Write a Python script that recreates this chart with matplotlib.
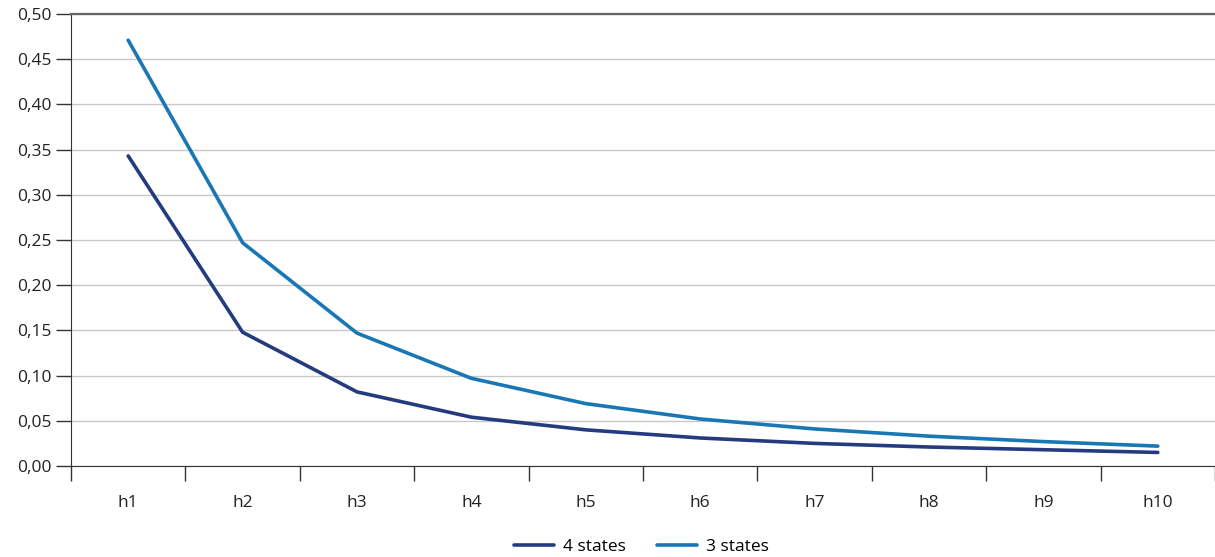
import numpy as np
import matplotlib.pyplot as plt
from matplotlib.ticker import FixedLocator, FuncFormatter

plt.rcParams['font.family'] = ['Open Sans', 'DejaVu Sans']

categories = ['h1', 'h2', 'h3', 'h4', 'h5', 'h6', 'h7', 'h8', 'h9', 'h10']
states4 = [0.343, 0.148, 0.082, 0.054, 0.040, 0.031, 0.025, 0.021, 0.018, 0.015]
states3 = [0.471, 0.247, 0.147, 0.097, 0.069, 0.052, 0.041, 0.033, 0.027, 0.022]
yticks = [0.0, 0.05, 0.10, 0.15, 0.20, 0.25, 0.30, 0.35, 0.40, 0.45, 0.50]

fig = plt.figure(figsize=(12.15, 5.57), dpi=100)
ax = fig.add_axes([71 / 1215, 91 / 557, 1 - 71 / 1215, (466 - 14) / 557])

x = np.arange(len(categories))
ax.plot(x, states4, color='#253b7f', lw=2.6, label='4 states', solid_capstyle='round')
ax.plot(x, states3, color='#1877b4', lw=2.6, label='3 states', solid_capstyle='round')

ax.set_xlim(-0.5, len(categories) - 0.5)
ax.set_ylim(0, 0.5)
ax.set_yticks(yticks)
ax.yaxis.set_major_formatter(FuncFormatter(lambda v, p: f'{v:.2f}'.replace('.', ',')))
ax.grid(axis='y', color='#c8c8c8', lw=1)
ax.set_axisbelow(True)

ax.set_xticks(x)
ax.set_xticklabels(categories)
ax.xaxis.set_minor_locator(FixedLocator(np.arange(-0.5, len(categories), 1.0)))
ax.tick_params(axis='x', which='major', length=0, pad=21, labelsize=12.5, colors='#222222')
ax.tick_params(axis='x', which='minor', length=11, width=1, color='#333333', direction='out')
ax.tick_params(axis='y', length=11, width=1, color='#333333', labelsize=12.5, labelcolor='#222222', pad=3)

ax.spines['right'].set_visible(False)
ax.spines['top'].set_color('#666666')
ax.spines['top'].set_linewidth(1.6)
ax.spines['left'].set_color('#333333')
ax.spines['bottom'].set_color('#333333')

fig.legend(loc='lower center', bbox_to_anchor=(0.528, -0.025), ncol=2, frameon=False,
           fontsize=12.5, handlelength=2.3, columnspacing=1.8, handletextpad=0.5)

fig.savefig('out.png', dpi=100)
